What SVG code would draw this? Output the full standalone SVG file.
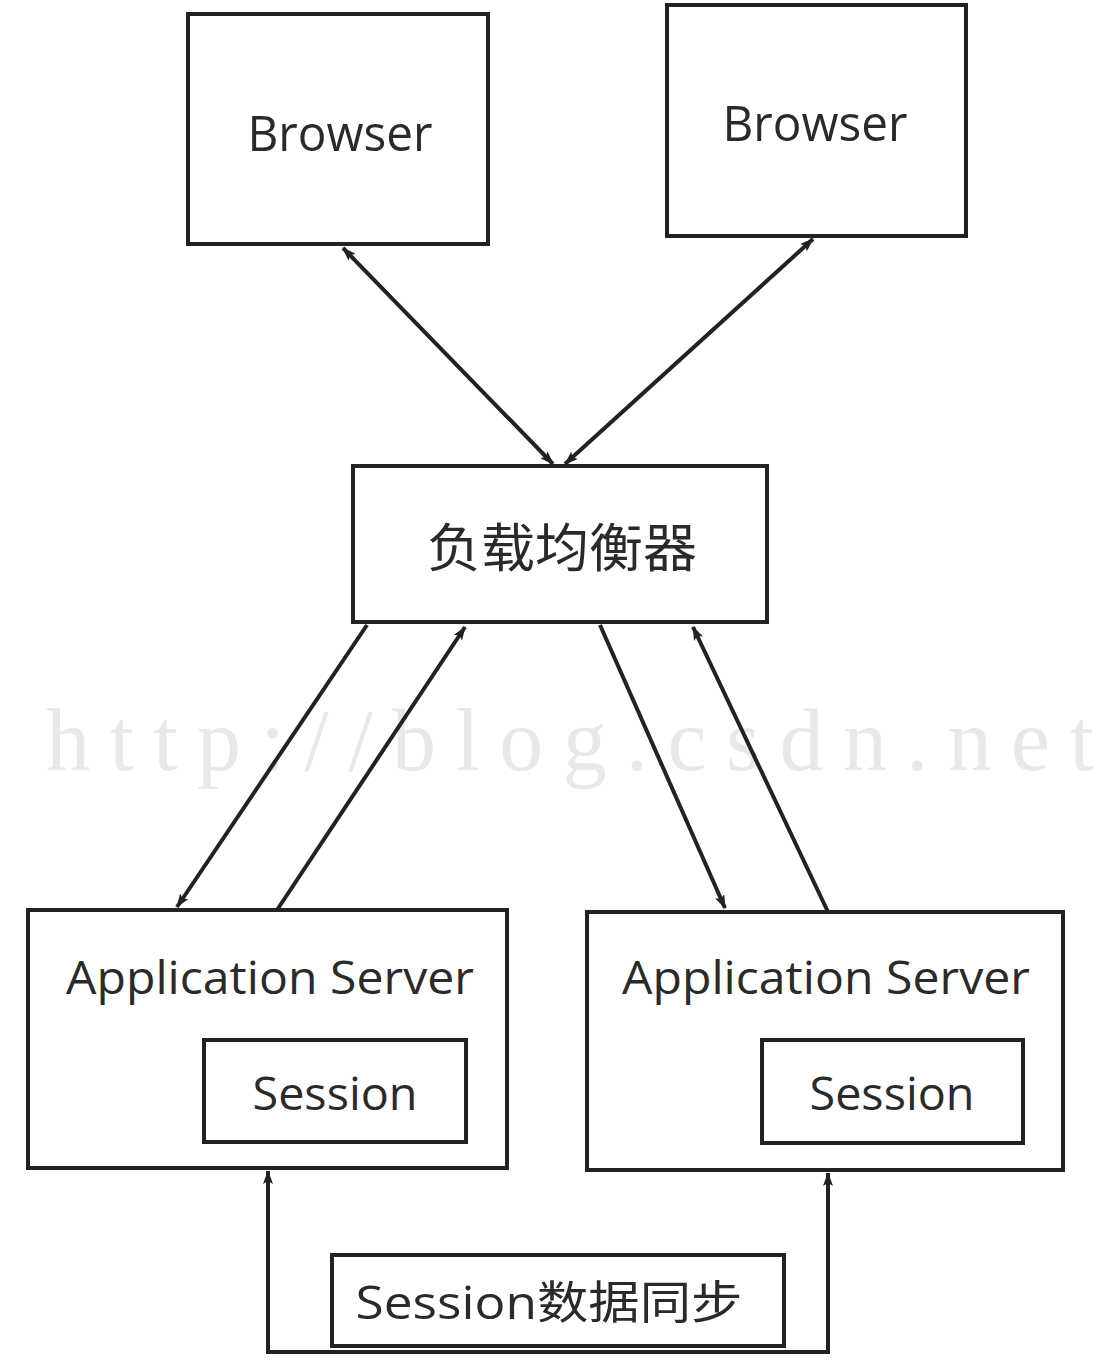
<svg xmlns="http://www.w3.org/2000/svg" width="1110" height="1364" viewBox="0 0 1110 1364">
<style>
.box{fill:#fff;stroke:#222;stroke-width:4}
.lbl{font-family:"Open Sans","Noto Sans","Noto Sans CJK SC",sans-serif;fill:#2a2a2a;text-anchor:middle}
.cn{font-family:"Noto Sans CJK SC","Noto Sans",sans-serif;fill:#2a2a2a;text-anchor:middle}
.wm{font-family:"Liberation Serif","DejaVu Serif",serif;fill:#e8e8e8}
.edge{fill:none;stroke:#222;stroke-width:4}
</style>
<defs>
<marker id="ah" viewBox="0 0 14 10" refX="13" refY="5" markerWidth="14" markerHeight="10" markerUnits="userSpaceOnUse" orient="auto-start-reverse">
<path d="M0,0 L14,5 L0,10 L3,5 Z" fill="#222"/>
</marker>
</defs>
<rect width="1110" height="1364" fill="#fff"/>
<text class="wm" x="46" y="770" font-size="88" textLength="1048" lengthAdjust="spacing">http://blog.csdn.net</text>
<g id="connectors">
<line class="edge" x1="343" y1="248" x2="553" y2="464" marker-start="url(#ah)" marker-end="url(#ah)"/>
<line class="edge" x1="813" y1="239" x2="565" y2="464" marker-start="url(#ah)" marker-end="url(#ah)"/>
<line class="edge" x1="367" y1="625" x2="177" y2="907" marker-end="url(#ah)"/>
<line class="edge" x1="277" y1="910" x2="465" y2="627" marker-end="url(#ah)"/>
<line class="edge" x1="600" y1="625" x2="725" y2="908" marker-end="url(#ah)"/>
<line class="edge" x1="828" y1="912" x2="693" y2="627" marker-end="url(#ah)"/>
<polyline class="edge" points="268,1171 268,1352 828,1352 828,1173" marker-start="url(#ah)" marker-end="url(#ah)"/>
</g>
<g id="browser1">
<rect class="box" x="188" y="14" width="300" height="230"/>
<text class="lbl" x="340" y="151" font-size="50" textLength="185" lengthAdjust="spacingAndGlyphs">Browser</text>
</g>
<g id="browser2">
<rect class="box" x="667" y="5" width="299" height="231"/>
<text class="lbl" x="815" y="141" font-size="50" textLength="185" lengthAdjust="spacingAndGlyphs">Browser</text>
</g>
<g id="loadbalancer">
<rect class="box" x="353" y="466" width="414" height="156"/>
<text class="cn" x="562" y="567" font-size="52" textLength="270" lengthAdjust="spacingAndGlyphs">负载均衡器</text>
</g>
<g id="appserver1">
<rect class="box" x="28" y="910" width="479" height="258"/>
<text class="lbl" x="270" y="994" font-size="45" textLength="408" lengthAdjust="spacingAndGlyphs">Application Server</text>
<g id="session1">
<rect class="box" x="204" y="1040" width="262" height="102"/>
<text class="lbl" x="335" y="1110" font-size="45" textLength="165" lengthAdjust="spacingAndGlyphs">Session</text>
</g>
</g>
<g id="appserver2">
<rect class="box" x="587" y="912" width="476" height="258"/>
<text class="lbl" x="826" y="994" font-size="45" textLength="408" lengthAdjust="spacingAndGlyphs">Application Server</text>
<g id="session2">
<rect class="box" x="762" y="1040" width="261" height="103"/>
<text class="lbl" x="892" y="1110" font-size="45" textLength="165" lengthAdjust="spacingAndGlyphs">Session</text>
</g>
</g>
<g id="sync">
<rect class="box" x="332" y="1255" width="452" height="91"/>
<text class="lbl" x="549" y="1319" font-size="45" textLength="387" lengthAdjust="spacingAndGlyphs">Session数据同步</text>
</g>
</svg>
